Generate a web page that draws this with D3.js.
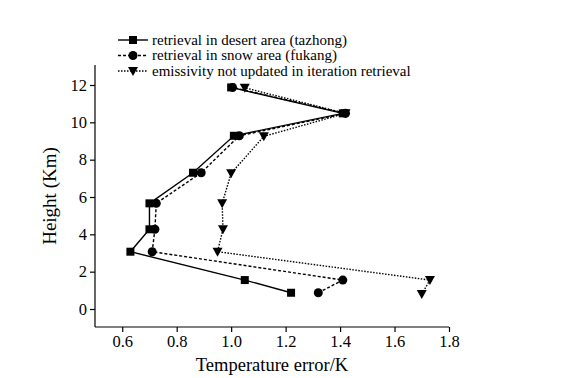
<!DOCTYPE html>
<html lang="en">
<head>
    <meta charset="UTF-8">
    <title>Temperature error profile</title>
    <script src="https://d3js.org/d3.v7.min.js"></script>
    <style>
        body { margin: 0; background: #fff; }
        text { font-family: "Liberation Serif", "Times New Roman", serif; fill: #000; }
    </style>
</head>
<body>
<div id="chart"></div>
<script>

// heights (km) shared by all three profiles
var heights = [0.87, 1.55, 3.07, 4.27, 5.66, 7.3, 9.28, 10.48, 11.87];
var desertErr = [1.22, 1.05, 0.63, 0.70, 0.70, 0.86, 1.01, 1.41, 1.00];
var snowErr   = [1.32, 1.41, 0.71, 0.72, 0.725, 0.89, 1.03, 1.42, 1.005];
var noUpdHeights = [0.8, 1.55, 3.07, 4.27, 5.66, 7.27, 9.25, 10.48, 11.85];
var noUpdErr  = [1.70, 1.73, 0.95, 0.97, 0.967, 1.0, 1.12, 1.42, 1.05];
var xTicks = [0.6, 0.8, 1.0, 1.2, 1.4, 1.6, 1.8];
var yTicks = [0, 2, 4, 6, 8, 10, 12];
var seriesNames = [
    'retrieval in desert area (tazhong)',
    'retrieval in snow area (fukang)',
    'emissivity not updated in iteration retrieval'
];

var width = 567, height = 378;
var svg = d3.select('#chart').append('svg')
    .attr('width', width)
    .attr('height', height);

var x = d3.scaleLinear().domain([0.5, 1.8]).range([95, 449]);
var y = d3.scaleLinear().domain([0, 12]).range([309, 85]);

// axes - only left and bottom
var xAxis = svg.append('g')
    .attr('transform', 'translate(0,327)')
    .call(d3.axisBottom(x).tickValues(xTicks).tickFormat(d3.format('.1f')).tickSizeOuter(0).tickSize(5));
xAxis.select('.domain').attr('d', 'M95,0H449');
xAxis.selectAll('text').attr('font-size', 16.5).attr('y', 8).attr('dy', '0.71em');

var yAxis = svg.append('g')
    .attr('transform', 'translate(95,0)')
    .call(d3.axisLeft(y).tickValues(yTicks).tickSizeOuter(0).tickSize(5));
yAxis.select('.domain').attr('d', 'M0,65V327');
yAxis.selectAll('text').attr('font-size', 16.5).attr('x', -8);

svg.selectAll('.domain, .tick line').attr('stroke', '#000').attr('stroke-width', 1.2);
svg.selectAll('.tick text').attr('font-family', '"Liberation Serif", serif');

svg.append('text')
    .attr('x', 272).attr('y', 371)
    .attr('text-anchor', 'middle')
    .attr('font-size', 18.5)
    .text('Temperature error/K');

svg.append('text')
    .attr('transform', 'translate(56,196) rotate(-90)')
    .attr('text-anchor', 'middle')
    .attr('font-size', 19)
    .text('Height (Km)');

var line = d3.line()
    .x(function(d) { return x(d[0]); })
    .y(function(d) { return y(d[1]); });

var series = [
    { vals: d3.zip(desertErr, heights), dash: null, marker: 'square' },
    { vals: d3.zip(snowErr, heights), dash: '3,2', marker: 'circle' },
    { vals: d3.zip(noUpdErr, noUpdHeights), dash: '1.5,1.5', marker: 'triangle' }
];

function drawMarker(g, type, cx, cy) {
    if (type === 'square') {
        g.append('rect').attr('x', cx - 4).attr('y', cy - 4).attr('width', 8).attr('height', 8).attr('fill', '#000');
    } else if (type === 'circle') {
        g.append('circle').attr('cx', cx).attr('cy', cy).attr('r', 4.5).attr('fill', '#000');
    } else {
        g.append('path')
            .attr('d', 'M' + (cx - 5) + ',' + (cy - 4) + 'L' + (cx + 5) + ',' + (cy - 4) + 'L' + cx + ',' + (cy + 5) + 'Z')
            .attr('fill', '#000');
    }
}

series.forEach(function(s) {
    svg.append('path')
        .datum(s.vals)
        .attr('d', line)
        .attr('fill', 'none')
        .attr('stroke', '#000')
        .attr('stroke-width', 1.4)
        .attr('stroke-dasharray', s.dash);
    var g = svg.append('g');
    s.vals.forEach(function(d) { drawMarker(g, s.marker, x(d[0]), y(d[1])); });
});

// legend
var legend = svg.append('g');
series.forEach(function(s, i) {
    var ly = 40 + i * 15.5;
    legend.append('line')
        .attr('x1', 118).attr('x2', 148).attr('y1', ly).attr('y2', ly)
        .attr('stroke', '#000').attr('stroke-width', 1.4)
        .attr('stroke-dasharray', s.dash);
    drawMarker(legend, s.marker, 133, ly);
    legend.append('text')
        .attr('x', 152).attr('y', ly)
        .attr('dy', '0.32em')
        .attr('font-size', 15)
        .text(seriesNames[i]);
});

</script>
</body>
</html>
